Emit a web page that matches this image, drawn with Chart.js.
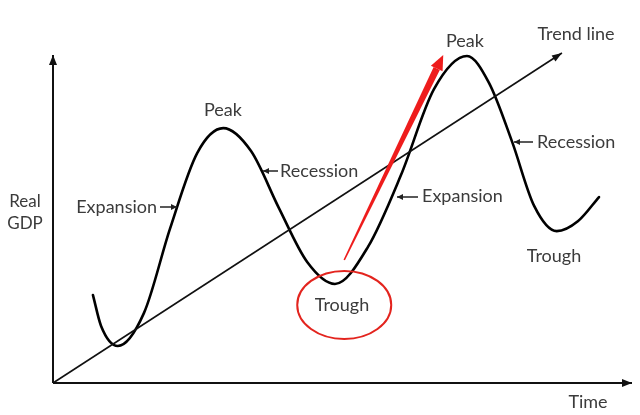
<!DOCTYPE html>
<html>
<head>
<meta charset="utf-8">
<script src="https://cdn.jsdelivr.net/npm/chart.js@4"></script>
<style>
html,body{margin:0;padding:0;background:#fff;}
#wrap{width:640px;height:415px;}
</style>
</head>
<body>
<div id="wrap"><canvas id="c" width="640" height="415"></canvas></div>
<script>
// Time (x) and Real GDP (y) values in abstract units, axes run 0..100
const cycleTime = [6.9, 8.3, 11.2, 15.7, 20.2, 24.9, 29.4, 34.2, 39.0, 43.9, 48.7, 54.4, 60.1, 65.8, 71.5, 75.3, 79.3, 83.1, 87.0, 90.7, 94.3];
const cycleGDP  = [26.8, 17.4, 11.3, 21.3, 47.0, 70.1, 77.7, 70.7, 53.4, 36.9, 30.2, 41.5, 63.4, 89.6, 99.7, 91.5, 73.5, 54.0, 46.3, 49.4, 56.7];
const trendTime = [0, 87.9];
const trendGDP  = [0, 100.6];
const xAxisTime = [0, 100];
const xAxisGDP  = [0, 0];
const yAxisTime = [0, 0];
const yAxisGDP  = [0, 100];
const redArrowTime = [50.3, 67.4];
const redArrowGDP  = [37.5, 100];
const troughCircle = {time: 50.3, gdp: 23.8};

const zip = (xs, ys) => xs.map((x, i) => ({x: x, y: ys[i]}));

const FONT = '"Lato", "Open Sans", sans-serif';
const TXT = '#3b3b3b';

function head(ctx, x1, y1, x2, y2, len, wid, color) {
  const a = Math.atan2(y2 - y1, x2 - x1);
  ctx.save();
  ctx.fillStyle = color;
  ctx.beginPath();
  ctx.moveTo(x2, y2);
  ctx.lineTo(x2 - len * Math.cos(a) + wid / 2 * Math.sin(a), y2 - len * Math.sin(a) - wid / 2 * Math.cos(a));
  ctx.lineTo(x2 - len * Math.cos(a) - wid / 2 * Math.sin(a), y2 - len * Math.sin(a) + wid / 2 * Math.cos(a));
  ctx.closePath();
  ctx.fill();
  ctx.restore();
}

const decor = {
  id: 'decor',
  afterDatasetsDraw(chart) {
    const ctx = chart.ctx;
    const xs = chart.scales.x, ys = chart.scales.y;
    const px = v => xs.getPixelForValue(v), py = v => ys.getPixelForValue(v);

    // axis arrowheads
    head(ctx, px(xAxisTime[0]), py(xAxisGDP[0]), px(xAxisTime[1]), py(xAxisGDP[1]), 10, 8, '#111');
    head(ctx, px(yAxisTime[0]), py(yAxisGDP[0]), px(yAxisTime[1]), py(yAxisGDP[1]), 10, 8, '#111');
    // trend arrowhead
    head(ctx, px(trendTime[0]), py(trendGDP[0]), px(trendTime[1]), py(trendGDP[1]), 10, 7, '#111');

    // red tapered arrow
    const x1 = px(redArrowTime[0]), y1 = py(redArrowGDP[0]);
    const x2 = px(redArrowTime[1]), y2 = py(redArrowGDP[1]);
    const a = Math.atan2(y2 - y1, x2 - x1);
    const hl = 15, hw = 13;
    const bx = x2 - hl * Math.cos(a), by = y2 - hl * Math.sin(a);
    const nx = Math.sin(a), ny = -Math.cos(a);
    const w0 = 0.8, w1 = 3.4;
    ctx.save();
    ctx.fillStyle = '#ee1c1c';
    ctx.beginPath();
    ctx.moveTo(x1 + nx * w0, y1 + ny * w0);
    ctx.lineTo(bx + nx * w1, by + ny * w1);
    ctx.lineTo(bx - nx * w1, by - ny * w1);
    ctx.lineTo(x1 - nx * w0, y1 - ny * w0);
    ctx.closePath();
    ctx.fill();
    ctx.restore();
    head(ctx, x1, y1, x2, y2, hl, hw, '#ee1c1c');

    // red ellipse
    ctx.save();
    ctx.strokeStyle = '#e3241e';
    ctx.lineWidth = 2;
    ctx.beginPath();
    ctx.ellipse(px(troughCircle.time), py(troughCircle.gdp), 47, 34, 0, 0, Math.PI * 2);
    ctx.stroke();
    ctx.restore();

    // labels
    ctx.save();
    ctx.fillStyle = TXT;
    ctx.textBaseline = 'middle';
    ctx.font = '18px ' + FONT;
    const t = (s, x, y, al) => { ctx.textAlign = al || 'center'; ctx.fillText(s, x, y); };
    t('Peak', 223, 110);
    t('Peak', 465, 41);
    t('Trend line', 576, 34);
    t('Recession', 280, 171, 'left');
    t('Recession', 537, 142, 'left');
    t('Expansion', 157, 207, 'right');
    t('Expansion', 422, 196, 'left');
    t('Trough', 342, 305);
    t('Trough', 554, 256);
    t('Time', 588, 402);
    ctx.font = '17px ' + FONT;
    t('Real', 25, 202);
    t('GDP', 25, 224);
    ctx.restore();

    // small pointer arrows
    ctx.save();
    ctx.strokeStyle = '#222';
    ctx.lineWidth = 1.5;
    const sa = (xa, ya, xb, yb) => {
      ctx.beginPath(); ctx.moveTo(xa, ya); ctx.lineTo(xb, yb); ctx.stroke();
      head(ctx, xa, ya, xb, yb, 6, 6, '#222');
    };
    sa(160, 207, 177, 207);
    sa(278, 171, 263, 171);
    sa(418, 197, 397, 197);
    sa(533, 142, 514, 142);
    ctx.restore();
  }
};

const PXX = 5.79, PXY = 3.28;
new Chart(document.getElementById('c'), {
  type: 'line',
  data: {
    datasets: [
      {data: zip(xAxisTime, xAxisGDP), borderColor: '#111', borderWidth: 2, pointRadius: 0},
      {data: zip(yAxisTime, yAxisGDP), borderColor: '#111', borderWidth: 2, pointRadius: 0},
      {data: zip(trendTime, trendGDP), borderColor: '#111', borderWidth: 1.6, pointRadius: 0},
      {data: zip(cycleTime, cycleGDP), borderColor: '#000', borderWidth: 2.6, pointRadius: 0, cubicInterpolationMode: 'monotone', borderCapStyle: 'round'}
    ]
  },
  options: {
    responsive: false,
    devicePixelRatio: 1,
    animation: false,
    layout: {padding: 0},
    plugins: {legend: {display: false}, tooltip: {enabled: false}},
    scales: {
      x: {type: 'linear', display: false, min: -53 / PXX, max: (640 - 53) / PXX},
      y: {type: 'linear', display: false, min: -(415 - 383) / PXY, max: 383 / PXY}
    }
  },
  plugins: [decor]
});
</script>
</body>
</html>
